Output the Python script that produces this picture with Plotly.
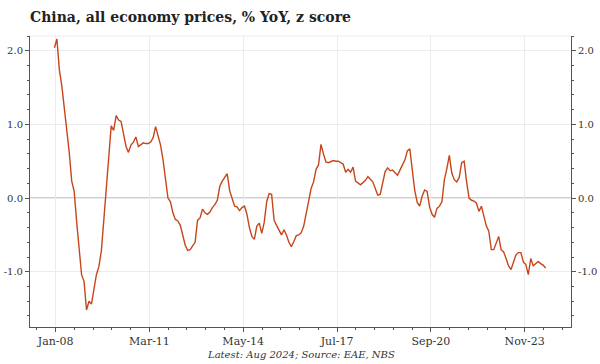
import plotly.graph_objects as go

# Monthly z-score, Jan-2008 .. Aug-2024 (month index 0..199)
z_score = [
    2.04, 2.16, 1.74, 1.52, 1.22, 0.95, 0.62, 0.23, 0.09, -0.32, -0.66, -1.04, -1.13, -1.52, -1.40, -1.44,
    -1.24, -1.04, -0.93, -0.72, -0.30, 0.20, 0.55, 0.98, 0.92, 1.12, 1.06, 1.04, 0.88, 0.70, 0.62, 0.72, 0.76,
    0.83, 0.70, 0.72, 0.75, 0.74, 0.74, 0.76, 0.82, 0.97, 0.84, 0.72, 0.52, 0.23, 0.00, -0.05, -0.20, -0.29,
    -0.31, -0.37, -0.52, -0.64, -0.71, -0.70, -0.65, -0.60, -0.30, -0.27, -0.15, -0.20, -0.22, -0.19, -0.13,
    -0.09, -0.03,
    0.16, 0.23, 0.28, 0.33, 0.10, 0.00, -0.11, -0.12, -0.17, -0.13, -0.11, -0.22, -0.40, -0.52, -0.56, -0.38,
    -0.34, -0.48, -0.33, -0.05, 0.06, 0.05, -0.30, -0.37, -0.44, -0.50, -0.43, -0.50, -0.60, -0.66, -0.59,
    -0.51, -0.50, -0.47,
    -0.38, -0.21, -0.02, 0.13, 0.22, 0.39, 0.45, 0.73, 0.60, 0.49, 0.48, 0.50, 0.51, 0.50, 0.50, 0.48, 0.46,
    0.35, 0.39, 0.35, 0.42, 0.23, 0.20, 0.18, 0.21, 0.24, 0.29, 0.26, 0.22, 0.13, 0.04, 0.05, 0.22,
    0.36, 0.41, 0.37, 0.38, 0.34, 0.31, 0.38, 0.44, 0.52, 0.64, 0.67, 0.38, 0.10, -0.06, -0.11, 0.03, 0.11,
    0.09, -0.12, -0.22, -0.26, -0.14, -0.11, -0.05, 0.25, 0.40, 0.58, 0.34, 0.25, 0.22, 0.28, 0.48, 0.50,
    0.22, 0.00, -0.03, -0.04, -0.07, -0.18, -0.11, -0.25, -0.38, -0.45, -0.70, -0.70, -0.62, -0.52, -0.70,
    -0.73, -0.82, -0.92, -0.97, -0.86, -0.77, -0.74, -0.74, -0.87, -0.90, -1.04, -0.82, -0.92, -0.89, -0.86,
    -0.89, -0.91, -0.95,
]
month_index = list(range(len(z_score)))

x_tick_labels = ["Jan-08", "Mar-11", "May-14", "Jul-17", "Sep-20", "Nov-23"]
x_tick_months = [0.5, 38.5, 76.5, 114.5, 152.5, 190.5]
y_tick_values = [-1.0, 0.0, 1.0, 2.0]
y_tick_labels = ["-1.0", "0.0", "1.0", "2.0"]

title_text = "China, all economy prices, % YoY, z score"
source_text = "Latest: Aug 2024; Source: EAE, NBS"

line_color = "#C6461B"
axis_color = "#555555"
grid_color = "#EBEBEB"
font_family = "DejaVu Serif"

fig = go.Figure()
fig.add_trace(go.Scatter(x=month_index, y=z_score, mode="lines",
                         line=dict(color=line_color, width=1.4), showlegend=False))
fig.add_trace(go.Scatter(x=month_index, y=z_score, mode="lines", yaxis="y2",
                         line=dict(color="rgba(0,0,0,0)", width=0), showlegend=False,
                         hoverinfo="skip"))

y_range = [-1.75, 2.2]
common_y = dict(range=y_range, tickmode="array", tickvals=y_tick_values, ticktext=y_tick_labels,
                ticks="outside", ticklen=4, tickcolor=axis_color, showline=True, linecolor=axis_color,
                linewidth=1, tickfont=dict(family=font_family, size=10, color="#333333"),
                minor=dict(tickmode="linear", tick0=0, dtick=0.2, ticks="outside", ticklen=2,
                           tickcolor=axis_color, showgrid=False),
                zeroline=False, fixedrange=True, automargin=False)

fig.update_layout(
    width=600, height=364,
    margin=dict(l=30, r=29, t=36, b=37),
    paper_bgcolor="white", plot_bgcolor="white",
    title=dict(text="<b>" + title_text + "</b>", x=0.05, xanchor="left", y=0.953, yanchor="middle",
               pad=dict(l=0, r=0, t=0, b=0),
               font=dict(family=font_family, size=14, color="#222222")),
    xaxis=dict(range=[-9.9, 209.3], tickmode="array", tickvals=x_tick_months, ticktext=x_tick_labels,
               ticks="outside", ticklen=4, tickcolor=axis_color, showline=True, linecolor=axis_color,
               linewidth=1, showgrid=True, gridcolor=grid_color, gridwidth=1, automargin=False,
               tickfont=dict(family=font_family, size=11, color="#333333"),
               minor=dict(tickmode="linear", tick0=0.5, dtick=7.6, ticks="outside", ticklen=2,
                          tickcolor=axis_color, showgrid=False),
               zeroline=False),
    yaxis=dict(side="left", showgrid=True, gridcolor=grid_color, gridwidth=1, **common_y),
    yaxis2=dict(side="right", overlaying="y", showgrid=False, **common_y),
    shapes=[
        dict(type="line", xref="paper", yref="y", x0=0, x1=1, y0=0, y1=0,
             line=dict(color="#A0A0A0", width=1.2), layer="below"),
        dict(type="line", xref="paper", yref="paper", x0=0, x1=1, y0=1, y1=1,
             line=dict(color=grid_color, width=1), layer="below"),
    ],
    annotations=[
        dict(text="<i>" + source_text + "</i>", xref="paper", yref="paper", x=0.5, y=-0.096,
             xanchor="center", yanchor="middle", showarrow=False,
             font=dict(family=font_family, size=10, color="#333333")),
    ],
)

fig.write_html("out.html", config={"displayModeBar": False},
               post_script="document.body.style.margin='0';document.body.style.padding='0';")
